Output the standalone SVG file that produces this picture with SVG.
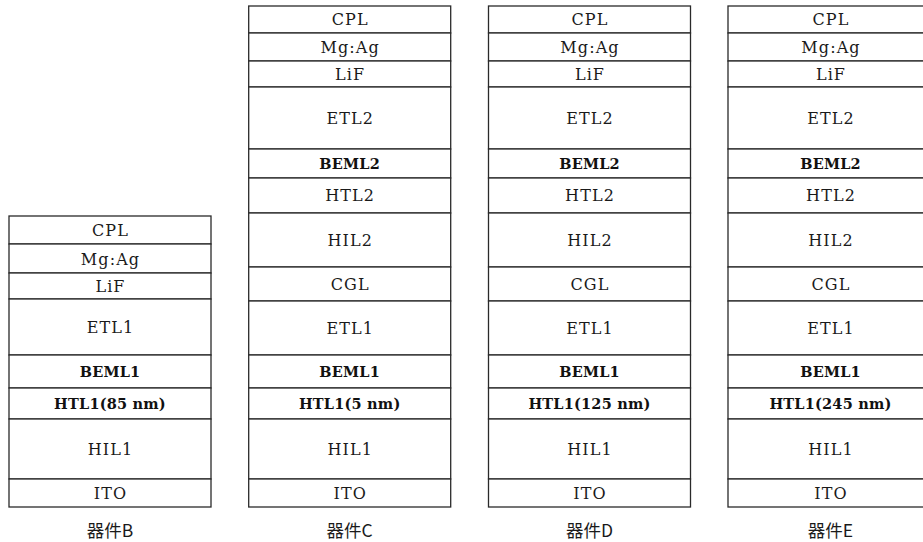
<svg xmlns="http://www.w3.org/2000/svg" width="923" height="542" viewBox="0 0 923 542">
<style>
rect{fill:#fff;stroke:#2a2a2a;stroke-width:1.3}
text{font-family:"DejaVu Serif","Liberation Serif",serif;font-size:16px;letter-spacing:1.1px;fill:#1a1a1a;text-anchor:middle;dominant-baseline:central}
.b{font-weight:bold;font-size:14.5px;letter-spacing:0.2px;fill:#111}
.cap{font-family:"Noto Sans CJK SC","Liberation Sans",sans-serif;font-size:17.5px;letter-spacing:0}
</style>
<rect x="0" y="0" width="923" height="542" style="stroke:none"/>
<g id="deviceB">
<rect x="9" y="216" width="202" height="28"/><text x="110.5" y="230.5">CPL</text>
<rect x="9" y="244" width="202" height="29"/><text x="110.5" y="259">Mg:Ag</text>
<rect x="9" y="273" width="202" height="26"/><text x="110.5" y="286">LiF</text>
<rect x="9" y="299" width="202" height="56"/><text x="110.5" y="327">ETL1</text>
<rect x="9" y="355" width="202" height="33"/><text class="b" x="110" y="371.5">BEML1</text>
<rect x="9" y="388" width="202" height="31"/><text class="b" x="110" y="403.5">HTL1(85 nm)</text>
<rect x="9" y="419" width="202" height="60"/><text x="110.5" y="449">HIL1</text>
<rect x="9" y="479" width="202" height="28"/><text x="110.5" y="493">ITO</text>
<text class="cap" x="110" y="529">器件B</text>
</g>
<g id="deviceC">
<rect x="248.7" y="6" width="202" height="27"/><text x="350.2" y="19.5">CPL</text>
<rect x="248.7" y="33" width="202" height="28"/><text x="350.2" y="47">Mg:Ag</text>
<rect x="248.7" y="61" width="202" height="26"/><text x="350.2" y="74">LiF</text>
<rect x="248.7" y="87" width="202" height="62"/><text x="350.2" y="118">ETL2</text>
<rect x="248.7" y="149" width="202" height="29"/><text class="b" x="349.7" y="163.5">BEML2</text>
<rect x="248.7" y="178" width="202" height="35"/><text x="350.2" y="195.5">HTL2</text>
<rect x="248.7" y="213" width="202" height="54"/><text x="350.2" y="240">HIL2</text>
<rect x="248.7" y="267" width="202" height="34"/><text x="350.2" y="284">CGL</text>
<rect x="248.7" y="301" width="202" height="54"/><text x="350.2" y="328">ETL1</text>
<rect x="248.7" y="355" width="202" height="33"/><text class="b" x="349.7" y="371.5">BEML1</text>
<rect x="248.7" y="388" width="202" height="31"/><text class="b" x="349.7" y="403.5">HTL1(5 nm)</text>
<rect x="248.7" y="419" width="202" height="60"/><text x="350.2" y="449">HIL1</text>
<rect x="248.7" y="479" width="202" height="28"/><text x="350.2" y="493">ITO</text>
<text class="cap" x="349.7" y="529">器件C</text>
</g>
<g id="deviceD">
<rect x="488.5" y="6" width="202" height="27"/><text x="590" y="19.5">CPL</text>
<rect x="488.5" y="33" width="202" height="28"/><text x="590" y="47">Mg:Ag</text>
<rect x="488.5" y="61" width="202" height="26"/><text x="590" y="74">LiF</text>
<rect x="488.5" y="87" width="202" height="62"/><text x="590" y="118">ETL2</text>
<rect x="488.5" y="149" width="202" height="29"/><text class="b" x="589.5" y="163.5">BEML2</text>
<rect x="488.5" y="178" width="202" height="35"/><text x="590" y="195.5">HTL2</text>
<rect x="488.5" y="213" width="202" height="54"/><text x="590" y="240">HIL2</text>
<rect x="488.5" y="267" width="202" height="34"/><text x="590" y="284">CGL</text>
<rect x="488.5" y="301" width="202" height="54"/><text x="590" y="328">ETL1</text>
<rect x="488.5" y="355" width="202" height="33"/><text class="b" x="589.5" y="371.5">BEML1</text>
<rect x="488.5" y="388" width="202" height="31"/><text class="b" x="589.5" y="403.5">HTL1(125 nm)</text>
<rect x="488.5" y="419" width="202" height="60"/><text x="590" y="449">HIL1</text>
<rect x="488.5" y="479" width="202" height="28"/><text x="590" y="493">ITO</text>
<text class="cap" x="589.5" y="529">器件D</text>
</g>
<g id="deviceE">
<rect x="728" y="6" width="204" height="27"/><text x="831" y="19.5">CPL</text>
<rect x="728" y="33" width="204" height="28"/><text x="831" y="47">Mg:Ag</text>
<rect x="728" y="61" width="204" height="26"/><text x="831" y="74">LiF</text>
<rect x="728" y="87" width="204" height="62"/><text x="831" y="118">ETL2</text>
<rect x="728" y="149" width="204" height="29"/><text class="b" x="830.5" y="163.5">BEML2</text>
<rect x="728" y="178" width="204" height="35"/><text x="831" y="195.5">HTL2</text>
<rect x="728" y="213" width="204" height="54"/><text x="831" y="240">HIL2</text>
<rect x="728" y="267" width="204" height="34"/><text x="831" y="284">CGL</text>
<rect x="728" y="301" width="204" height="54"/><text x="831" y="328">ETL1</text>
<rect x="728" y="355" width="204" height="33"/><text class="b" x="830.5" y="371.5">BEML1</text>
<rect x="728" y="388" width="204" height="31"/><text class="b" x="830.5" y="403.5">HTL1(245 nm)</text>
<rect x="728" y="419" width="204" height="60"/><text x="831" y="449">HIL1</text>
<rect x="728" y="479" width="204" height="28"/><text x="831" y="493">ITO</text>
<text class="cap" x="830.5" y="529">器件E</text>
</g>
<g id="connectors"/>
</svg>
